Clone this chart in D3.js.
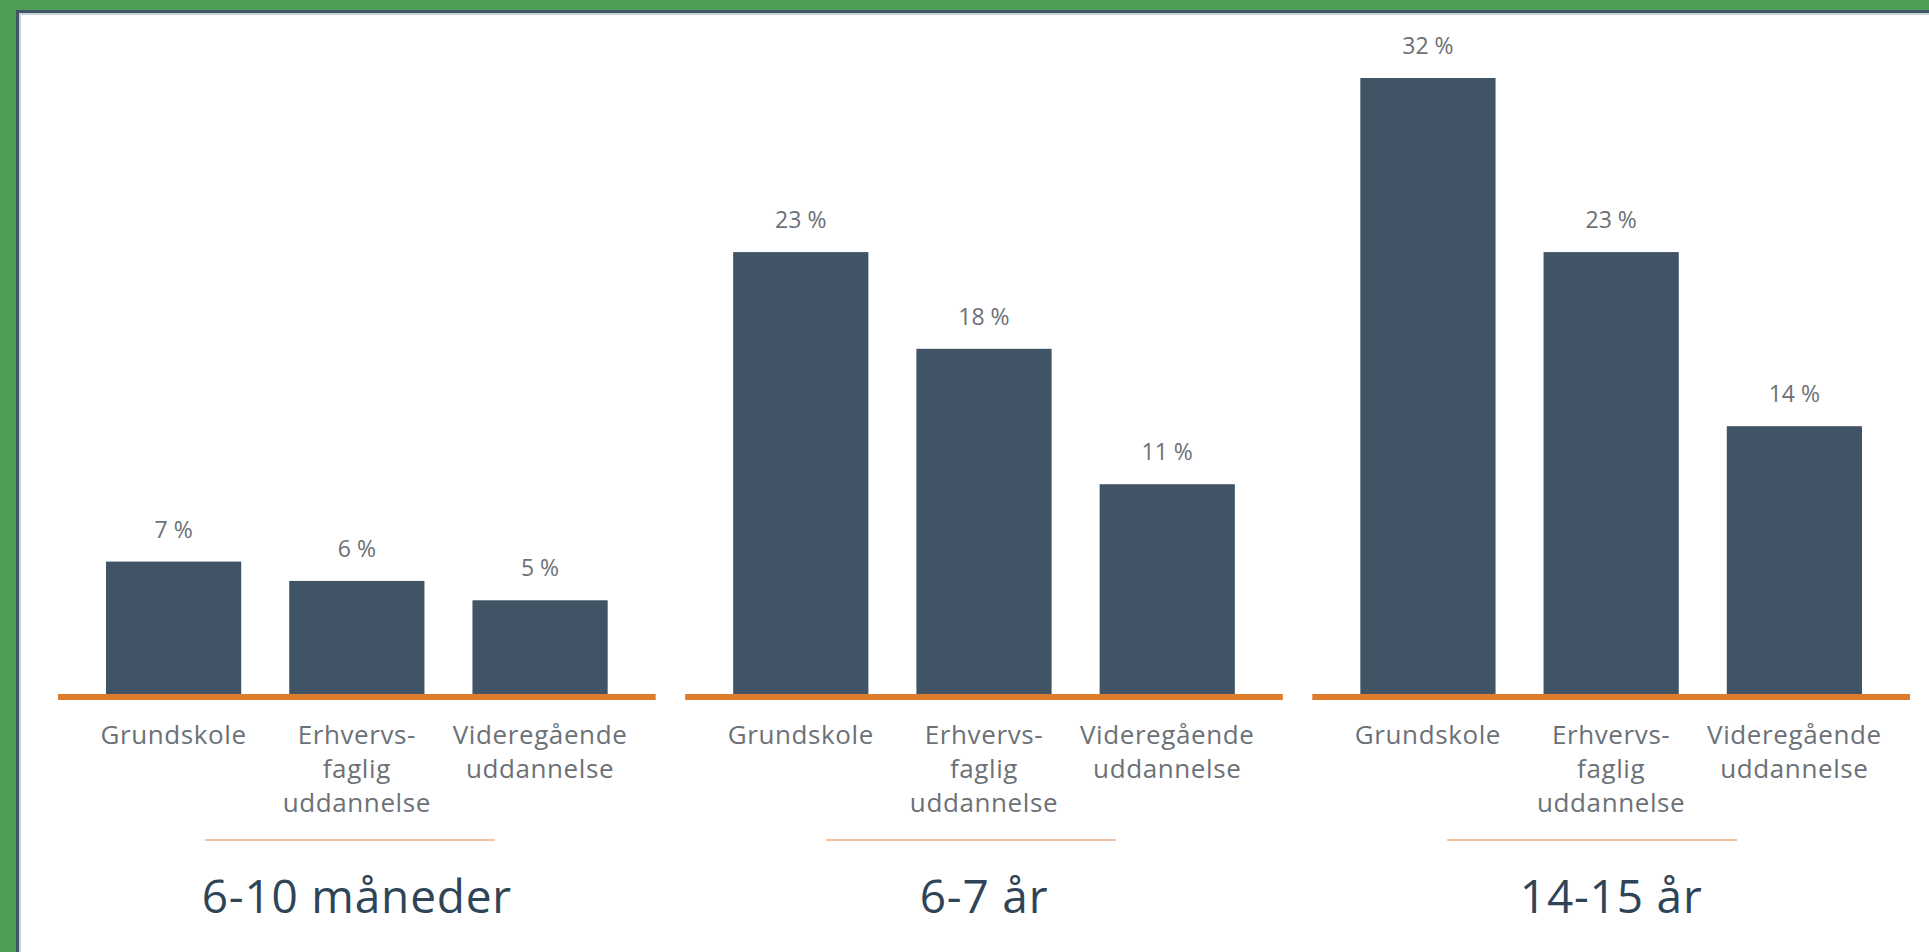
<!DOCTYPE html>
<html>
<head>
<meta charset="utf-8">
<script src="https://cdn.jsdelivr.net/npm/d3@7"></script>
<style>
    body { margin: 0; background: #ffffff; }
    svg { display: block; font-family: "Open Sans", "DejaVu Sans", sans-serif; }
    .valueLabel { fill: #6b7177; font-size: 23px; text-anchor: middle; }
    .catLabel { fill: #6b7177; font-size: 26px; letter-spacing: 0.6px; text-anchor: middle; }
    .groupTitle { fill: #2f4557; font-size: 46px; font-weight: 500; letter-spacing: 0.8px; text-anchor: middle; }
</style>
</head>
<body>
<div id="plotSect"></div>
<script>
// data //
let groups = ["6-10 måneder", "6-7 år", "14-15 år"];
let categories = ["Grundskole", "Erhvervsfaglig", "Videregående"];
let catLabels = [["Grundskole"], ["Erhvervs-", "faglig", "uddannelse"], ["Videregående", "uddannelse"]];
let values = [
    [7, 6, 5],
    [23, 18, 11],
    [32, 23, 14]
];

let SVGwidth = 1929,
SVGheight = 952;

let svg = d3.select("#plotSect").append("svg")
    .attr("width", SVGwidth)
    .attr("height", SVGheight);

// frame: green outer border, dark inner line, light edge //
svg.append("rect")
    .attr("x", 0).attr("y", 0)
    .attr("width", SVGwidth).attr("height", SVGheight)
    .style("fill", "#ffffff");
svg.append("rect")
    .attr("x", 0).attr("y", 0)
    .attr("width", SVGwidth).attr("height", 10)
    .style("fill", "#4f9e55");
svg.append("rect")
    .attr("x", 0).attr("y", 0)
    .attr("width", 16).attr("height", SVGheight)
    .style("fill", "#4f9e55");
svg.append("rect")
    .attr("x", 16).attr("y", 10)
    .attr("width", SVGwidth - 16).attr("height", 3)
    .style("fill", "#3f5565");
svg.append("rect")
    .attr("x", 16).attr("y", 10)
    .attr("width", 3).attr("height", SVGheight - 10)
    .style("fill", "#3f5565");
svg.append("rect")
    .attr("x", 19).attr("y", 13)
    .attr("width", SVGwidth - 19).attr("height", 2)
    .style("fill", "#c8d2db");
svg.append("rect")
    .attr("x", 19).attr("y", 13)
    .attr("width", 2).attr("height", SVGheight - 13)
    .style("fill", "#c8d2db");

// scales //
let xGroup = d3.scaleBand()
    .domain(groups)
    .range([58, 1910])
    .paddingInner(0.047)
    .paddingOuter(0);

let xCat = d3.scaleBand()
    .domain(categories)
    .range([0, xGroup.bandwidth()])
    .paddingInner(0.262)
    .paddingOuter(0.262);

let yScale = d3.scaleLinear()
    .domain([0, 32])
    .range([697, 78]);

let baseY = yScale(0);

function groupRows(d) {
    let gi = groups.indexOf(d);
    return values[gi].map(function(v, j) { return {cat: categories[j], val: v}; });
}

let groupG = svg.selectAll(".group")
    .data(groups)
    .enter().append("g")
    .attr("class", "group")
    .attr("transform", function(d) { return "translate(" + xGroup(d) + ",0)"; });

// bars //
groupG.selectAll(".bar")
    .data(groupRows)
    .enter().append("rect")
    .attr("class", "bar")
    .attr("x", function(d) { return xCat(d.cat); })
    .attr("y", function(d) { return yScale(d.val); })
    .attr("width", xCat.bandwidth())
    .attr("height", function(d) { return baseY - yScale(d.val); })
    .style("fill", "#405465");

// value labels //
groupG.selectAll(".valueLabel")
    .data(groupRows)
    .enter().append("text")
    .attr("class", "valueLabel")
    .attr("x", function(d) { return xCat(d.cat) + xCat.bandwidth() / 2; })
    .attr("y", function(d) { return yScale(d.val) - 24; })
    .text(function(d) { return d.val + " %"; });

// orange baseline //
groupG.append("line")
    .attr("x1", 0)
    .attr("x2", xGroup.bandwidth())
    .attr("y1", baseY)
    .attr("y2", baseY)
    .style("stroke", "#df7c2c")
    .style("stroke-width", 6);

// category labels //
let catText = groupG.selectAll(".catLabel")
    .data(categories)
    .enter().append("text")
    .attr("class", "catLabel")
    .attr("x", function(d) { return xCat(d) + xCat.bandwidth() / 2; })
    .attr("y", 744);

catText.selectAll("tspan")
    .data(function(d) { return catLabels[categories.indexOf(d)]; })
    .enter().append("tspan")
    .attr("x", function() { return d3.select(this.parentNode).attr("x"); })
    .attr("dy", function(d, i) { return i == 0 ? 0 : 34; })
    .text(function(d) { return d; });

// thin separator and group title //
groupG.append("line")
    .attr("x1", function(d, i) { return xGroup.bandwidth() / 2 - 152 - i * 6; })
    .attr("x2", function(d, i) { return xGroup.bandwidth() / 2 + 138 - i * 6; })
    .attr("y1", 840)
    .attr("y2", 840)
    .style("stroke", "#f2c3a2")
    .style("stroke-width", 2);

groupG.append("text")
    .attr("class", "groupTitle")
    .attr("x", xGroup.bandwidth() / 2)
    .attr("y", 913)
    .text(function(d) { return d; });
</script>
</body>
</html>
